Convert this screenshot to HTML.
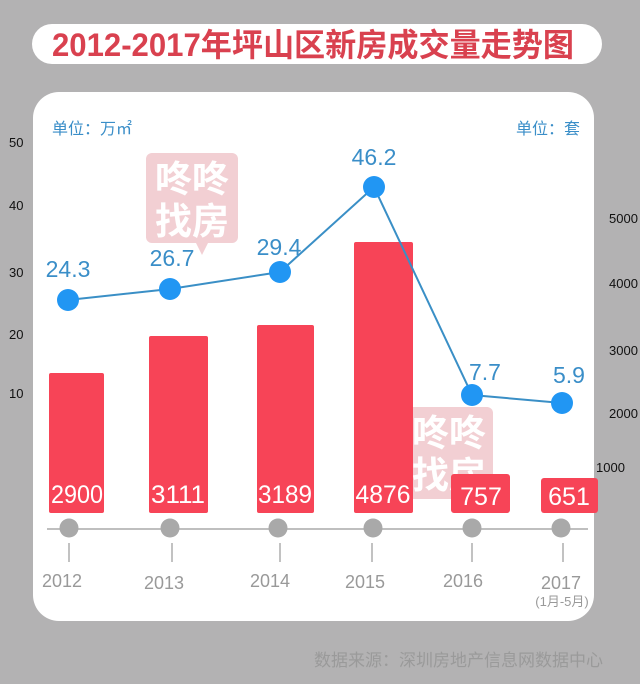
<!DOCTYPE html>
<html><head><meta charset="utf-8"><style>
html,body{margin:0;padding:0;background:#b3b2b3;}
svg{display:block;}
text{font-family:"Liberation Sans","Noto Sans CJK SC",sans-serif;}
</style></head><body>
<svg width="640" height="684" viewBox="0 0 640 684" xmlns="http://www.w3.org/2000/svg">
<rect width="640" height="684" fill="#b3b2b3"/>
<rect x="32" y="24" width="570" height="40" rx="20" fill="#fff"/>
<text x="313" y="56" text-anchor="middle" font-size="32" font-weight="bold" fill="#d9414f" textLength="522" lengthAdjust="spacingAndGlyphs">2012-2017年坪山区新房成交量走势图</text>
<rect x="33" y="92" width="561" height="529" rx="26" fill="#fff"/>
<text x="52" y="134" font-size="16" fill="#3a8ec8">单位：万㎡</text>
<text x="580" y="134" text-anchor="end" font-size="16" fill="#3a8ec8">单位：套</text>
<g font-size="13" fill="#111">
<text x="9" y="147">50</text><text x="9" y="210">40</text><text x="9" y="277">30</text><text x="9" y="339">20</text><text x="9" y="398">10</text>
<text x="609" y="223">5000</text><text x="609" y="288">4000</text><text x="609" y="355">3000</text><text x="609" y="418">2000</text><text x="596" y="472">1000</text>
</g>
<g>
<rect x="146" y="153" width="92" height="90" rx="6" fill="#f2cfd3"/>
<path d="M196 243 l6 12 l6 -12z" fill="#f2cfd3"/>
<text x="192" y="192" text-anchor="middle" font-size="37" fill="#fff" font-weight="bold">咚咚</text>
<text x="192" y="234" text-anchor="middle" font-size="37" fill="#fff" font-weight="bold">找房</text>
<rect x="405" y="407" width="88" height="92" rx="6" fill="#f2cfd3"/>
<text x="449" y="446" text-anchor="middle" font-size="37" fill="#fff" font-weight="bold">咚咚</text>
<text x="449" y="488" text-anchor="middle" font-size="37" fill="#fff" font-weight="bold">找房</text>
</g>
<g fill="#f74457">
<rect x="49" y="373" width="55" height="140" rx="2"/>
<rect x="149" y="336" width="59" height="177" rx="2"/>
<rect x="257" y="325" width="57" height="188" rx="2"/>
<rect x="354" y="242" width="59" height="271" rx="2"/>
<rect x="451" y="474" width="59" height="39" rx="3"/>
<rect x="541" y="478" width="57" height="35" rx="3"/>
</g>
<g font-size="25" fill="#fff" text-anchor="middle">
<text x="77" y="503" textLength="52" lengthAdjust="spacingAndGlyphs">2900</text><text x="178" y="503" textLength="54" lengthAdjust="spacingAndGlyphs">3111</text><text x="285" y="503" textLength="54" lengthAdjust="spacingAndGlyphs">3189</text><text x="383" y="503" textLength="55" lengthAdjust="spacingAndGlyphs">4876</text><text x="481" y="505">757</text><text x="569" y="505">651</text>
</g>
<line x1="47" y1="529" x2="588" y2="529" stroke="#aaa" stroke-width="1.5"/>
<g fill="#a9a9a9">
<circle cx="69" cy="528" r="9.5"/><circle cx="170" cy="528" r="9.5"/><circle cx="278" cy="528" r="9.5"/><circle cx="373" cy="528" r="9.5"/><circle cx="472" cy="528" r="9.5"/><circle cx="561" cy="528" r="9.5"/>
</g>
<g stroke="#999" stroke-width="1.2">
<line x1="69" y1="543" x2="69" y2="562"/><line x1="172" y1="543" x2="172" y2="562"/><line x1="280" y1="543" x2="280" y2="562"/><line x1="372" y1="543" x2="372" y2="562"/><line x1="472" y1="543" x2="472" y2="562"/><line x1="563" y1="543" x2="563" y2="562"/>
</g>
<g font-size="18" fill="#999" text-anchor="middle">
<text x="62" y="587">2012</text><text x="164" y="589">2013</text><text x="270" y="587">2014</text><text x="365" y="588">2015</text><text x="463" y="587">2016</text><text x="561" y="589">2017</text>
<text x="562" y="606" font-size="13">(1月-5月)</text>
</g>
<polyline points="68,300 170,289 280,272 374,187 472,395 562,403" fill="none" stroke="#3a8fc6" stroke-width="2"/>
<g fill="#2196f3">
<circle cx="68" cy="300" r="11"/><circle cx="170" cy="289" r="11"/><circle cx="280" cy="272" r="11"/><circle cx="374" cy="187" r="11"/><circle cx="472" cy="395" r="11"/><circle cx="562" cy="403" r="11"/>
</g>
<g font-size="23" fill="#3a8ec8" text-anchor="middle">
<text x="68" y="277">24.3</text><text x="172" y="266">26.7</text><text x="279" y="255">29.4</text><text x="374" y="165">46.2</text><text x="485" y="380">7.7</text><text x="569" y="383">5.9</text>
</g>
<text x="603" y="666" text-anchor="end" font-size="17" fill="#9a9a9a">数据来源：深圳房地产信息网数据中心</text>
</svg>
</body></html>
